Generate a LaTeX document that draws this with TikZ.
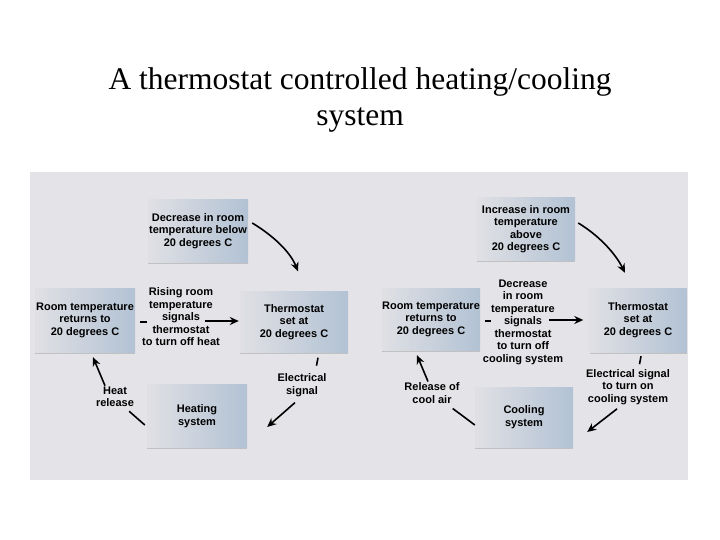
\documentclass[tikz,border=0pt]{standalone}
\usepackage{fontspec}
\setmainfont{Liberation Serif}
\newfontfamily\boxfont{Liberation Sans}
\usetikzlibrary{arrows.meta,shadows}
\definecolor{panelbg}{RGB}{228,228,232}
\definecolor{boxleft}{RGB}{224,224,228}
\definecolor{boxright}{RGB}{178,194,212}
\begin{document}
\begin{tikzpicture}[
    x=1pt, y=-1pt,
    box/.style={rectangle, left color=boxleft, right color=boxright, inner sep=0pt, align=center,
        font=\boxfont\bfseries\fontsize{11}{12.5}\selectfont,
        drop shadow={shadow xshift=0pt, shadow yshift=-1.5pt, opacity=0.35}},
    lbl/.style={align=center, inner sep=1pt, font=\boxfont\bfseries\fontsize{11}{12.5}\selectfont},
    arrow/.style={-{Stealth[length=9pt,width=8pt]}, line width=1.6pt},
    stub/.style={line width=1.6pt}
]
\useasboundingbox (0,0) rectangle (720,540);
\fill[white] (0,0) rectangle (720,540);
\fill[panelbg] (30,172) rectangle (688,480);

% Title
\node[font=\fontsize{31.5}{36}\selectfont, align=center] (title) at (360,100)
    {A thermostat controlled heating/cooling\\system};

% Heating cycle
\node[box, minimum width=100pt, minimum height=62pt] (dec) at (198,231) {Decrease in room\\temperature below\\20 degrees C};
\node[box, minimum width=100pt, minimum height=64pt] (room1) at (85,320) {Room temperature\\returns to\\20 degrees C};
\node[box, minimum width=108pt, minimum height=61pt] (thermo1) at (294,322) {Thermostat\\set at\\20 degrees C};
\node[box, minimum width=100pt, minimum height=63pt] (heat) at (197,416) {Heating\\system};
\node[lbl] (rise) at (181,317) {Rising room\\temperature\\signals\\thermostat\\to turn off heat};
\node[lbl] (elec1) at (302,385) {Electrical\\signal};
\node[lbl] (heatrel) at (115,397) {Heat\\release};

\draw[arrow] ([shift={(4,-8)}]dec.east) .. controls +(20,12) and +(-8,-20) .. ([shift={(4,-20)}]thermo1.north);
\draw[stub] ([shift={(5,2)}]room1.east) -- ++(7,0);
\draw[arrow] ([shift={(-35,-1)}]thermo1.west) -- ([shift={(-1,-1)}]thermo1.west);
\draw[stub] ([shift={(24,5)}]thermo1.south) -- ++(-1.5,8);
\draw[arrow] ([shift={(-7,5)}]elec1.south) -- ([shift={(20,11)}]heat.east);
\draw[stub] ([shift={(-2,9)}]heat.west) -- ([shift={(-6,3)}]heatrel.south east);
\draw[arrow] ([xshift=-10]heatrel.north) -- ([shift={(8,5)}]room1.south);

% Cooling cycle
\node[box, minimum width=98pt, minimum height=62pt] (inc) at (526,229) {Increase in room\\temperature\\above\\20 degrees C};
\node[box, minimum width=98pt, minimum height=62pt] (room2) at (431,319) {Room temperature\\returns to\\20 degrees C};
\node[box, minimum width=97pt, minimum height=64pt] (thermo2) at (638,320) {Thermostat\\set at\\20 degrees C};
\node[box, minimum width=98pt, minimum height=60pt] (cool) at (524,417) {Cooling\\system};
\node[lbl] (fall) at (523,322) {Decrease\\in room\\temperature\\signals\\thermostat\\to turn off\\cooling system};
\node[lbl] (elec2) at (628,387) {Electrical signal\\to turn on\\cooling system};
\node[lbl] (coolrel) at (432,393) {Release of\\cool air};

\draw[arrow] ([shift={(3,-6)}]inc.east) .. controls +(20,12) and +(-10,-20) .. ([shift={(-13,-15)}]thermo2.north);
\draw[stub] ([shift={(5,2)}]room2.east) -- ++(6,0);
\draw[arrow] ([shift={(-40,0)}]thermo2.west) -- ([shift={(-6,0)}]thermo2.west);
\draw[stub] ([shift={(3,4)}]thermo2.south) -- ++(-1.5,8);
\draw[arrow] ([shift={(-11,3)}]elec2.south) -- ([shift={(14,15)}]cool.east);
\draw[stub] ([shift={(0,8)}]cool.west) -- ([shift={(-8,4)}]coolrel.south east);
\draw[arrow] ([xshift=-4]coolrel.north) -- ([shift={(-14,5)}]room2.south);
\end{tikzpicture}
\end{document}
